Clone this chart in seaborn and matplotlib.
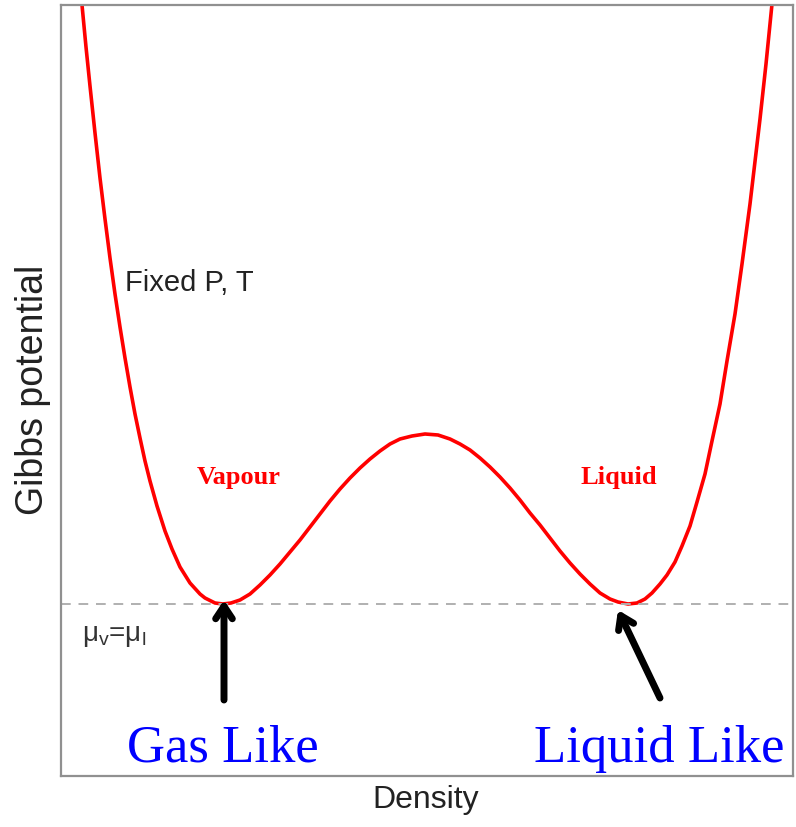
import matplotlib
matplotlib.use("Agg")
import matplotlib.pyplot as plt
import seaborn as sns
import pandas as pd

# Curve (density in arbitrary units, Gibbs potential relative to mu_v = mu_l)
density = [21, 25, 29, 34, 39, 44, 49, 54, 59, 64, 69, 74, 79, 84, 89, 96, 104, 111,
           119, 129, 139, 144, 154, 162, 170, 179, 189, 199, 209, 219, 229, 239, 249,
           259, 269, 279, 289, 299, 309, 319, 329, 339, 351, 364, 377, 389, 399, 409,
           419, 429, 439, 449, 459, 469, 479, 489, 499, 509, 519, 529, 539, 549, 557,
           567, 576, 584, 591, 599, 606, 614, 621, 629, 636, 644, 651, 659, 666, 674,
           681, 689, 699, 705, 711]
gibbs = [599, 557, 518, 471, 426, 385, 346, 310, 277, 246, 217, 190, 166, 143, 123, 98,
         73, 55, 37, 21, 10, 6, 1, 0, 1, 4, 10, 19, 29, 40, 52, 64, 77, 90, 103, 115,
         126, 136, 145, 153, 160, 165, 168, 170, 169, 165, 160, 154, 146, 137, 127, 116,
         104, 91, 79, 66, 53, 41, 30, 20, 11, 5, 2, 0, 1, 5, 11, 20, 29, 42, 58, 78,
         102, 130, 163, 200, 243, 290, 340, 400, 485, 540, 600]

coexistence_level = 0
curve_label = "Fixed P, T"
phase_labels = ["Vapour", "Liquid"]
phase_label_x = [178, 558]
phase_label_y = [127, 127]
state_labels = ["Gas Like", "Liquid Like"]
state_label_x = [162, 598]
arrow_tips = [(163, 4), (557, -6)]
arrow_tails = [(163, -96), (599, -94)]

df = pd.DataFrame({"Density": density, "Gibbs potential": gibbs})

sns.set_style("white")
plt.rcParams["font.family"] = ["Liberation Sans", "DejaVu Sans"]

fig = plt.figure(figsize=(7.96, 8.27), dpi=100)
ax = fig.add_axes([61 / 796, 1 - 776 / 827, 732 / 796, 771 / 827])

sns.lineplot(data=df, x="Density", y="Gibbs potential", color="#ff0000",
             lw=2.6, ax=ax, sort=False, estimator=None,
             solid_joinstyle="round", solid_capstyle="round")
ax.axhline(coexistence_level, color="#b0b0b0", lw=1.4, ls=(0, (5, 4)))

ax.set_xlim(0, 732)
ax.set_ylim(-172, 599)
ax.set_xticks([])
ax.set_yticks([])
ax.set_xlabel("")
ax.set_ylabel("")
for s in ax.spines.values():
    s.set_color("#909090")
    s.set_linewidth(1.6)

ax.text(128, 321, curve_label, fontsize=21, color="#222222", ha="center", va="center")
ax.text(21, -32, "μ$_\\mathregular{v}$=μ$_\\mathregular{l}$", fontsize=20, color="#333333",
        ha="left", va="center")

for lab, x, y in zip(phase_labels, phase_label_x, phase_label_y):
    ax.text(x, y, lab, fontsize=19, color="#ff0000", fontweight="bold",
            family="Liberation Serif", ha="center", va="center")

for lab, x in zip(state_labels, state_label_x):
    ax.text(x, -158, lab, fontsize=38, color="#0000ff", family="Liberation Serif",
            ha="center", va="baseline")

for tip, tail in zip(arrow_tips, arrow_tails):
    ax.annotate("", xy=tip, xytext=tail,
                arrowprops=dict(arrowstyle="->,head_length=0.9,head_width=0.6",
                                color="black", lw=5, shrinkA=0, shrinkB=0))

fig.text(33 / 796, 1 - 390 / 827, "Gibbs potential", rotation=90, fontsize=27,
         color="#222222", ha="center", va="center")
fig.text(426 / 796, 1 - 800 / 827, "Density", fontsize=23, color="#222222",
         ha="center", va="center")

fig.savefig("out.png", dpi=100)
